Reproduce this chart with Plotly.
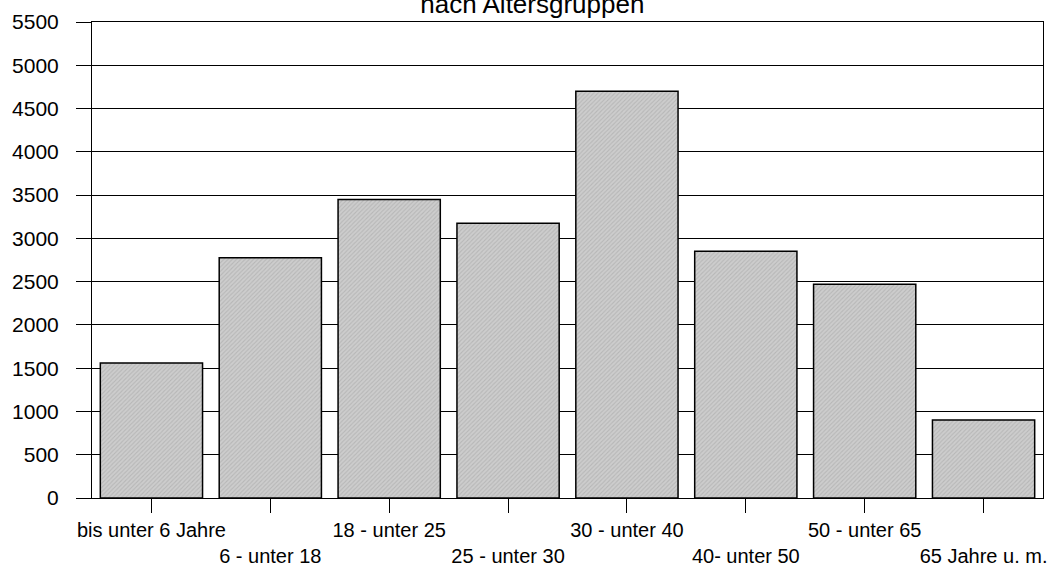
import plotly.graph_objects as go

categories = ["bis unter 6 Jahre", "6 - unter 18", "18 - unter 25", "25 - unter 30",
              "30 - unter 40", "40- unter 50", "50 - unter 65", "65 Jahre u. m."]
values = [1560, 2775, 3450, 3175, 4700, 2850, 2470, 900]
y_ticks = list(range(0, 5501, 500))

# staggered labels: odd ones on the second row
tick_labels = [c if i % 2 == 0 else "&nbsp;<br>" + c for i, c in enumerate(categories)]

fig = go.Figure(go.Bar(
    x=list(range(len(categories))),
    y=values,
    marker=dict(
        color="#c4c4c4",
        line=dict(color="black", width=1.5),
        pattern=dict(shape="/", bgcolor="#cdcdcd", fgcolor="#a0a0a0", size=3, solidity=0.35),
    ),
    hoverinfo="skip",
))

font_family = "Liberation Sans, Arial, sans-serif"

fig.update_layout(
    width=1048, height=567,
    margin=dict(l=92, r=5, t=22, b=69, autoexpand=False),
    paper_bgcolor="white", plot_bgcolor="white",
    bargap=0.14,
    showlegend=False,
    font=dict(family=font_family, color="black", size=20),
    title=dict(text="nach Altersgruppen", x=0.508, xanchor="center",
               y=1 - 4 / 567, yref="container", yanchor="middle",
               font=dict(size=26, family=font_family, color="black")),
    xaxis=dict(
        tickmode="array", tickvals=list(range(len(categories))), ticktext=tick_labels,
        range=[-0.5, len(categories) - 0.5],
        ticks="outside", ticklen=14, tickcolor="black", tickwidth=1,
        showline=True, linecolor="black", linewidth=1, mirror=True,
        showgrid=False, zeroline=False, automargin=False,
        tickangle=0, tickfont=dict(size=20),
    ),
    yaxis=dict(
        range=[0, 5500], tickmode="array", tickvals=y_ticks,
        ticks="outside", ticklen=15, tickcolor="black", tickwidth=1,
        showline=True, linecolor="black", linewidth=1, mirror=True,
        showgrid=True, gridcolor="black", gridwidth=1,
        zeroline=False, automargin=False, ticklabelstandoff=13,
        tickfont=dict(size=21),
    ),
)

fig.write_html("out.html", config={"displayModeBar": False},
               post_script="document.body.style.margin='0';")
